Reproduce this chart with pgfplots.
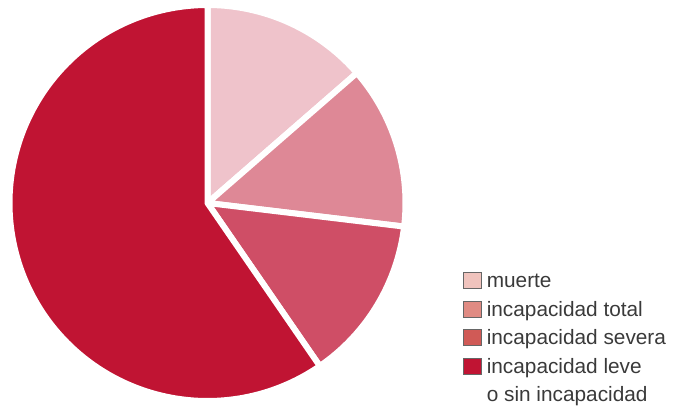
\documentclass[border=0pt]{standalone}
\usepackage{pgfplots}
\pgfplotsset{compat=1.18}
\usepackage{fontspec}
\setmainfont{Liberation Sans}
\definecolor{cMuerte}{HTML}{EFC3CB}
\definecolor{cTotal}{HTML}{DE8896}
\definecolor{cSevera}{HTML}{CF4E66}
\definecolor{cLeve}{HTML}{C01433}
\definecolor{lMuerte}{HTML}{F0C3BD}
\definecolor{lTotal}{HTML}{E08B83}
\definecolor{lSevera}{HTML}{D05A56}
\definecolor{lLeve}{HTML}{C01433}
\definecolor{txt}{HTML}{3A3A3A}
% shares (percent)
\def\pMuerte{13.6}
\def\pTotal{13.3}
\def\pSevera{13.5}
\def\pLeve{59.6}
\pgfmathsetmacro{\aA}{90}
\pgfmathsetmacro{\aB}{\aA-3.6*\pMuerte}
\pgfmathsetmacro{\aC}{\aB-3.6*\pTotal}
\pgfmathsetmacro{\aD}{\aC-3.6*\pSevera}
\pgfmathsetmacro{\aE}{\aD-3.6*\pLeve}
\def\cx{207.5}
\def\cy{202}
\def\rr{198}
\begin{document}
\begin{tikzpicture}
\begin{axis}[
  at={(0pt,0pt)}, anchor=south west,
  width=678pt, height=405pt, scale only axis,
  xmin=0, xmax=678, ymin=0, ymax=405,
  hide axis, clip=false,
  legend style={at={(axis cs:463,133)}, anchor=north west, draw=none, fill=none,
    inner sep=0pt, outer sep=0pt, row sep=9pt, column sep=5pt,
    font=\fontsize{20.8}{25}\selectfont\color{txt},
    nodes={inner sep=0pt, text height=15.3pt, text depth=4pt}},
  legend cell align=left,
  legend image code/.code={\draw[#1, draw=gray!80!black, line width=0.8pt] (0pt,-6.5pt) rectangle (18pt,9.5pt);},
]
\addplot[forget plot, domain=\aB:\aA, samples=80, fill=cMuerte, draw=white, line width=6pt, line join=round]
  ({\cx+\rr*cos(x)},{\cy+\rr*sin(x)}) -- (axis cs:\cx,\cy) -- cycle;
\addplot[forget plot, domain=\aC:\aB, samples=80, fill=cTotal, draw=white, line width=6pt, line join=round]
  ({\cx+\rr*cos(x)},{\cy+\rr*sin(x)}) -- (axis cs:\cx,\cy) -- cycle;
\addplot[forget plot, domain=\aD:\aC, samples=80, fill=cSevera, draw=white, line width=6pt, line join=round]
  ({\cx+\rr*cos(x)},{\cy+\rr*sin(x)}) -- (axis cs:\cx,\cy) -- cycle;
\addplot[forget plot, domain=\aE:\aD, samples=200, fill=cLeve, draw=white, line width=6pt, line join=round]
  ({\cx+\rr*cos(x)},{\cy+\rr*sin(x)}) -- (axis cs:\cx,\cy) -- cycle;
\addlegendimage{fill=lMuerte}
\addlegendentry{muerte}
\addlegendimage{fill=lTotal}
\addlegendentry{incapacidad total}
\addlegendimage{fill=lSevera}
\addlegendentry{incapacidad severa}
\addlegendimage{fill=lLeve}
\addlegendentry{incapacidad leve}
\addlegendimage{empty legend}
\addlegendentry{o sin incapacidad}
\end{axis}
\pgfresetboundingbox
\path[use as bounding box] (0pt,0pt) rectangle (678pt,405pt);
\end{tikzpicture}
\end{document}
